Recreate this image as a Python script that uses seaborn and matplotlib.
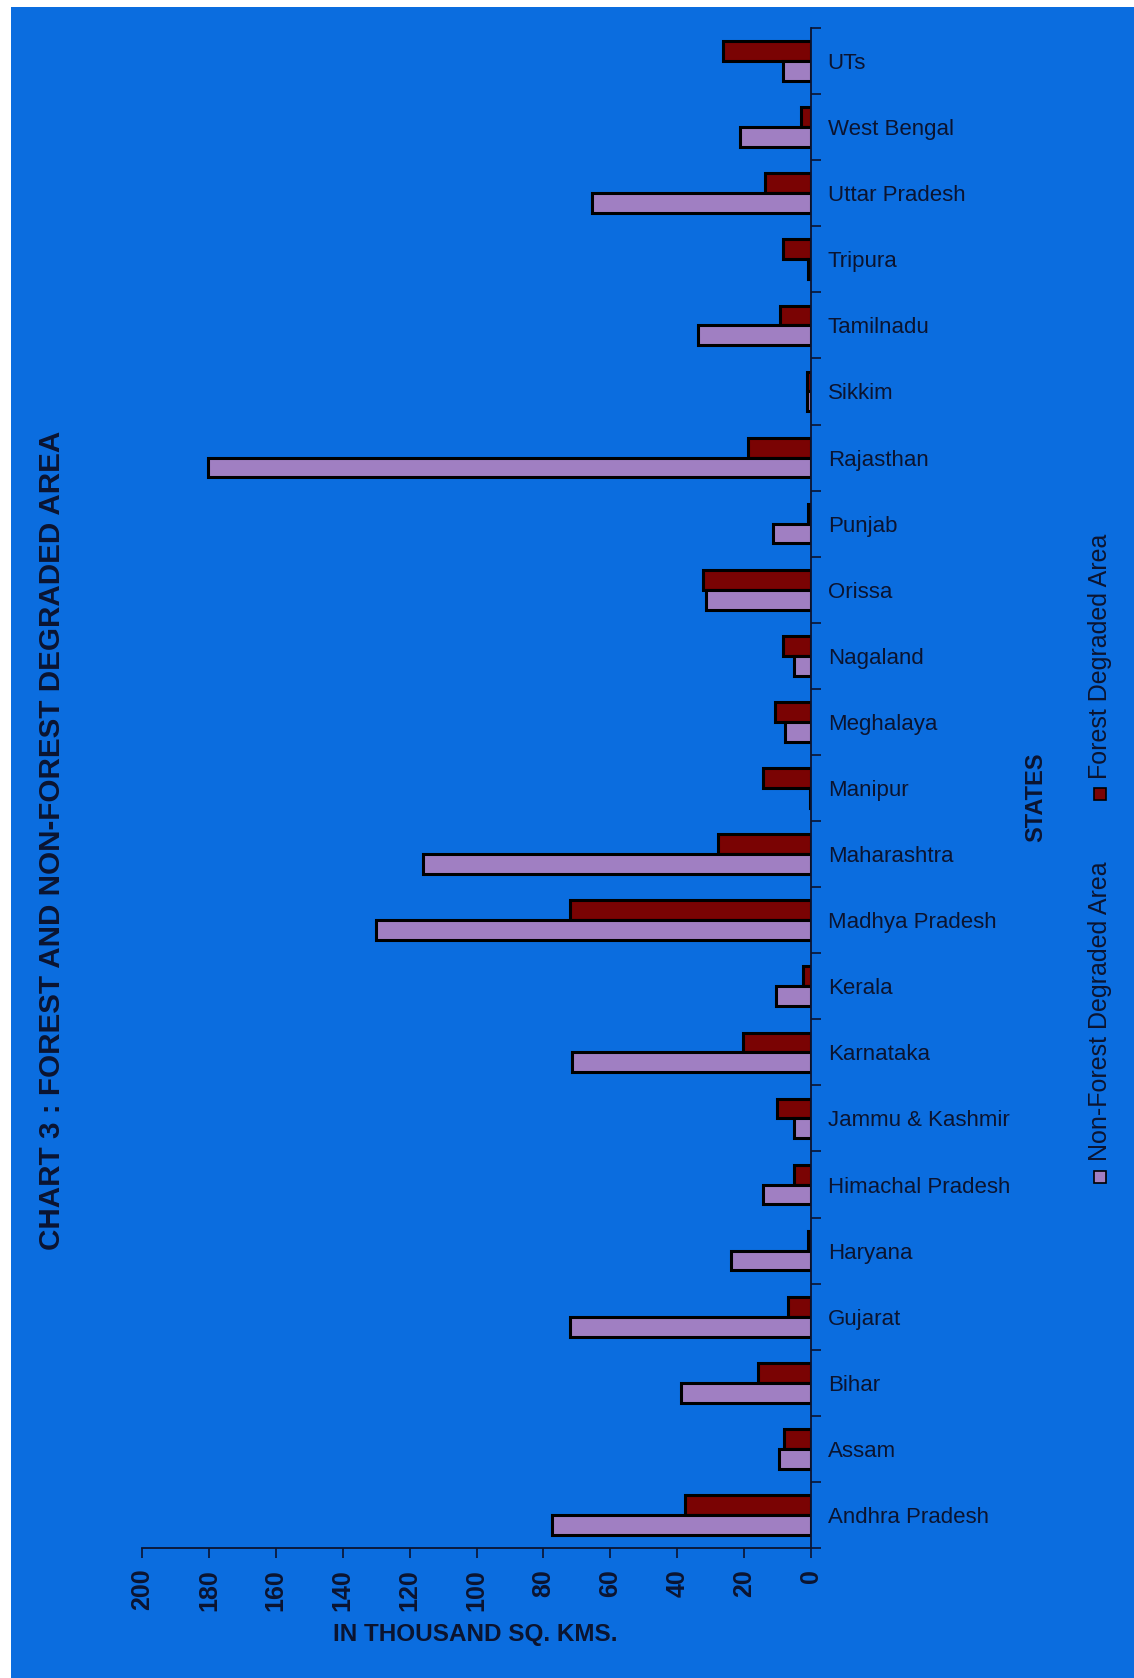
import matplotlib
matplotlib.use("Agg")
import matplotlib.pyplot as plt
from matplotlib.patches import Rectangle
from matplotlib.ticker import FixedLocator
import seaborn as sns
import pandas as pd

# States, listed from the bottom of the chart to the top
states = [
    "Andhra Pradesh", "Assam", "Bihar", "Gujarat", "Haryana",
    "Himachal Pradesh", "Jammu & Kashmir", "Karnataka", "Kerala",
    "Madhya Pradesh", "Maharashtra", "Manipur", "Meghalaya", "Nagaland",
    "Orissa", "Punjab", "Rajasthan", "Sikkim", "Tamilnadu", "Tripura",
    "Uttar Pradesh", "West Bengal", "UTs",
]

# Degraded area, thousand sq. km
forest_degraded = [
    37.7, 8.1, 15.8, 6.8, 0.8, 5.1, 10.3, 20.3, 2.5, 72.1, 27.7, 14.3,
    10.8, 8.5, 32.2, 0.8, 18.8, 1.2, 9.3, 8.3, 13.8, 3.1, 26.4,
]
non_forest_degraded = [
    77.3, 9.6, 39.0, 71.9, 24.0, 14.3, 5.1, 71.5, 10.5, 130.1, 116.0, 0.3,
    7.8, 5.0, 31.4, 11.5, 180.3, 1.2, 33.7, 0.8, 65.6, 21.2, 8.3,
]

series_names = ["Forest Degraded Area", "Non-Forest Degraded Area"]
x_ticks = [0, 20, 40, 60, 80, 100, 120, 140, 160, 180, 200]

RED = "#7a0303"
LILAC = "#a07fc2"
BLUE = "#0b6ddf"
INK = "#0b1430"

df = pd.DataFrame({
    "State": states * 2,
    "Area": forest_degraded + non_forest_degraded,
    "Type": [series_names[0]] * len(states) + [series_names[1]] * len(states),
})

sns.set_style("white")
plt.rcParams["font.family"] = ["Liberation Sans", "DejaVu Sans"]

W, H = 1134, 1678
fig = plt.figure(figsize=(W / 100, H / 100), dpi=100, facecolor="white")
fig.add_artist(Rectangle((11 / W, 0), 1 - 11 / W, 1 - 7 / H,
                         transform=fig.transFigure, facecolor=BLUE,
                         edgecolor="none", zorder=0))

ax = fig.add_axes([142 / W, 130 / H, (811 - 142) / W, (1548 - 28) / H])
ax.set_facecolor("none")

sns.barplot(
    data=df, y="State", x="Area", hue="Type",
    order=states[::-1], hue_order=series_names,
    palette=[RED, LILAC], saturation=1, width=0.6, orient="h",
    edgecolor="black", linewidth=2.2, legend=False, ax=ax,
)

# value axis runs right-to-left
ax.set_xlim(200, 0)
ax.set_ylim(len(states) - 0.5, -0.5)
ax.set_xticks(x_ticks)
ax.set_xticklabels([str(v) for v in x_ticks], rotation=90,
                   fontsize=18, fontweight="bold", color=INK)
ax.set_xlabel("")
ax.set_ylabel("")

# categories on the right side
ax.yaxis.tick_right()
ax.yaxis.set_label_position("right")
ax.tick_params(axis="y", which="major", length=0, pad=12,
               labelsize=16, labelcolor=INK)
ax.yaxis.set_minor_locator(FixedLocator([i - 0.5 for i in range(len(states) + 1)]))
ax.tick_params(axis="y", which="minor", right=True, left=False,
               length=7, width=1.2, color=INK, direction="out")
ax.tick_params(axis="x", which="major", bottom=True, length=7, width=1.2,
               color=INK, direction="out", pad=8)

for side in ["top", "left"]:
    ax.spines[side].set_visible(False)
for side in ["bottom", "right"]:
    ax.spines[side].set_color(INK)
    ax.spines[side].set_linewidth(1.3)

# title, axis captions, legend
fig.text(52 / W, 1 - 840 / H,
         "CHART 3 : FOREST AND NON-FOREST DEGRADED AREA",
         rotation=90, ha="center", va="center", fontsize=21.3,
         fontweight="bold", color=INK)
fig.text(475 / W, 1 - 1635 / H, "IN THOUSAND SQ. KMS.",
         ha="center", va="center", fontsize=17.5, fontweight="bold", color=INK)
fig.text(1036 / W, 1 - 797 / H, "STATES", rotation=90,
         ha="center", va="center", fontsize=17, fontweight="bold", color=INK)

# legend: (label, colour, marker centre y, text start y) in pixels from top
legend_items = [(series_names[1], LILAC, 1177, 1161),
                (series_names[0], RED, 794, 779)]
for label, colour, yc, yt in legend_items:
    s = 12
    fig.add_artist(Rectangle(((1100 - s / 2) / W, 1 - (yc + s / 2) / H),
                             s / W, s / H, transform=fig.transFigure,
                             facecolor=colour, edgecolor="black", linewidth=1.2))
    fig.text(1100 / W, 1 - yt / H, label, rotation=90,
             ha="center", va="bottom", fontsize=18, color=INK)

fig.savefig("out.png", dpi=100, facecolor=fig.get_facecolor())
